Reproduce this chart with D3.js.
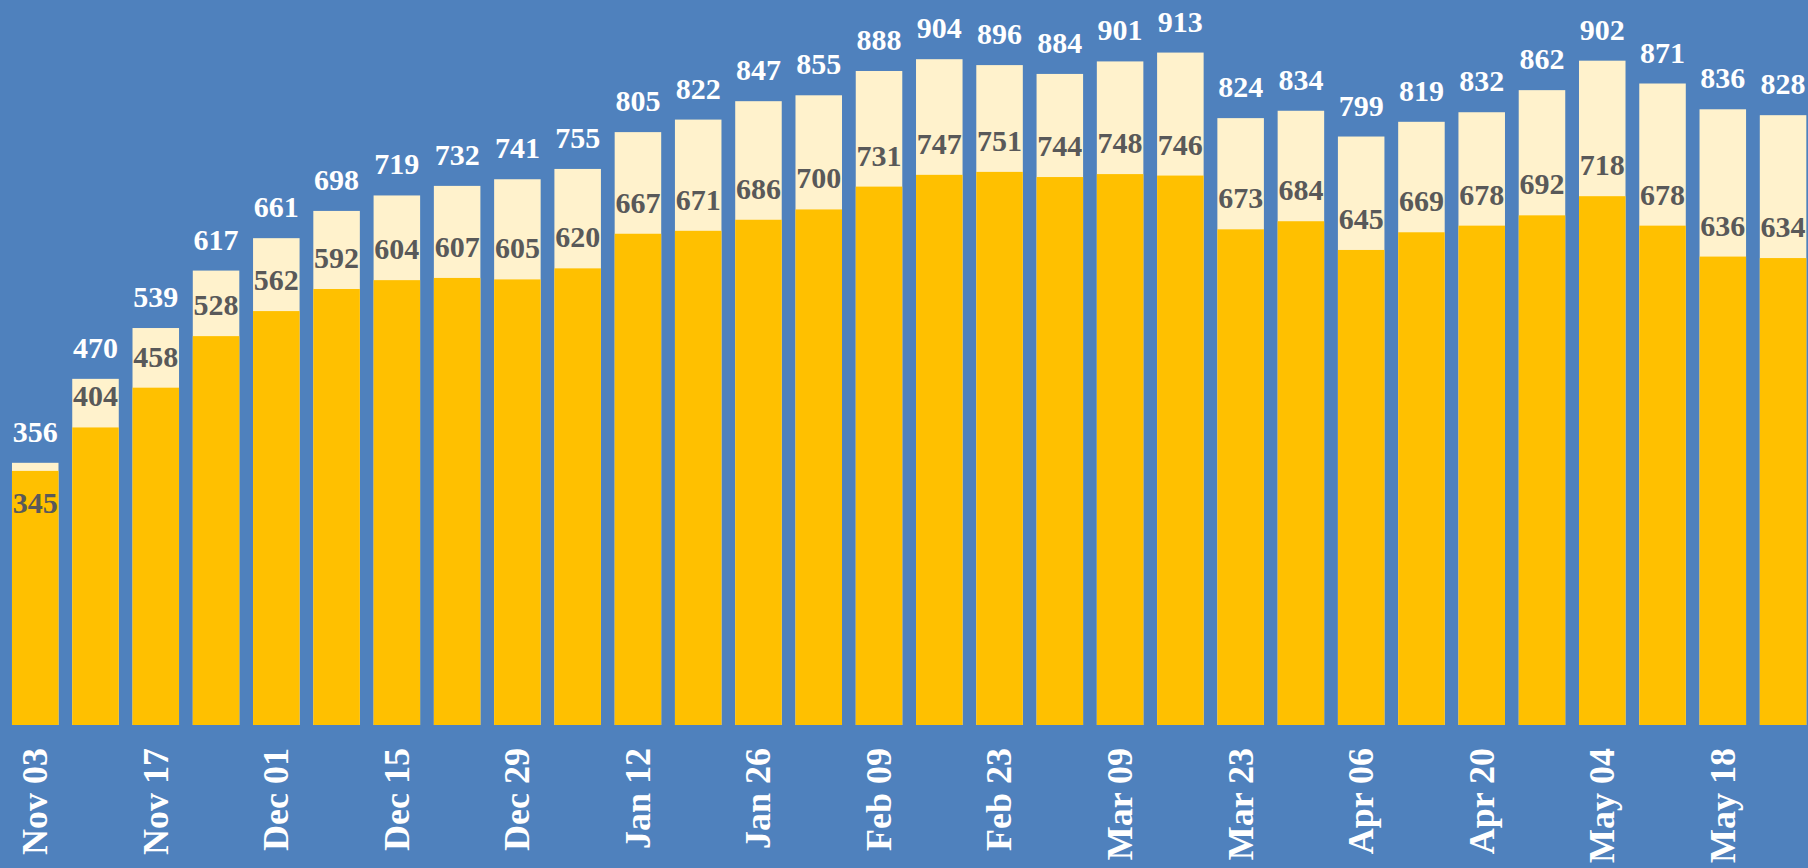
<!DOCTYPE html>
<html>
<head>
<meta charset="utf-8">
<script src="https://cdn.jsdelivr.net/npm/d3@7"></script>
<style>
  html, body { margin: 0; padding: 0; background: #4f81bd; overflow: hidden; }
  svg { display: block; }
</style>
</head>
<body>
<div id="chart"></div>
<script>
const weeks = ["Nov 03", "Nov 10", "Nov 17", "Nov 24", "Dec 01", "Dec 08", "Dec 15", "Dec 22",
  "Dec 29", "Jan 05", "Jan 12", "Jan 19", "Jan 26", "Feb 02", "Feb 09", "Feb 16", "Feb 23",
  "Mar 02", "Mar 09", "Mar 16", "Mar 23", "Mar 30", "Apr 06", "Apr 13", "Apr 20", "Apr 27",
  "May 04", "May 11", "May 18", "May 25"];

const totalValues = [356, 470, 539, 617, 661, 698, 719, 732, 741, 755, 805, 822, 847, 855, 888,
  904, 896, 884, 901, 913, 824, 834, 799, 819, 832, 862, 902, 871, 836, 828];

const innerValues = [345, 404, 458, 528, 562, 592, 604, 607, 605, 620, 667, 671, 686, 700, 731,
  747, 751, 744, 748, 746, 673, 684, 645, 669, 678, 692, 718, 678, 636, 634];

// only every other week gets a tick label
const tickLabels = weeks.filter((d, i) => i % 2 === 0);

const width = 1808,
  height = 868,
  baseY = 725;

const fontFamily = "'Palatino Linotype', 'Book Antiqua', Palatino, 'Liberation Serif', serif";

const svg = d3
  .select("#chart")
  .append("svg")
  .attr("width", width)
  .attr("height", height);

svg.append("rect").attr("width", width).attr("height", height).attr("fill", "#4f81bd");

const x = d3
  .scaleBand()
  .domain(weeks)
  .range([5.1, 1813.2])
  .paddingInner(0.228)
  .paddingOuter(0.114);

const y = d3.scaleLinear().domain([0, 1000]).range([baseY, baseY - 736.5]);

const rows = weeks.map((w, i) => ({ week: w, total: totalValues[i], inner: innerValues[i] }));

// total bars (light)
svg
  .selectAll(".bar-total")
  .data(rows)
  .enter()
  .append("rect")
  .attr("class", "bar-total")
  .attr("x", (d) => x(d.week))
  .attr("width", x.bandwidth())
  .attr("y", (d) => y(d.total))
  .attr("height", (d) => y(0) - y(d.total))
  .attr("fill", "#fff2cc");

// inner bars (gold)
svg
  .selectAll(".bar-inner")
  .data(rows)
  .enter()
  .append("rect")
  .attr("class", "bar-inner")
  .attr("x", (d) => x(d.week))
  .attr("width", x.bandwidth())
  .attr("y", (d) => y(d.inner))
  .attr("height", (d) => y(0) - y(d.inner))
  .attr("fill", "#ffc000");

// total labels
svg
  .selectAll(".lbl-total")
  .data(rows)
  .enter()
  .append("text")
  .attr("class", "lbl-total")
  .attr("x", (d) => x(d.week) + x.bandwidth() / 2)
  .attr("y", (d) => y(d.total) - 21)
  .attr("text-anchor", "middle")
  .attr("font-family", fontFamily)
  .attr("font-weight", "bold")
  .attr("font-size", 30)
  .attr("fill", "#ffffff")
  .text((d) => d.total);

// inner labels; pushed inside the gold bar when the light part is too thin
svg
  .selectAll(".lbl-inner")
  .data(rows)
  .enter()
  .append("text")
  .attr("class", "lbl-inner")
  .attr("x", (d) => x(d.week) + x.bandwidth() / 2)
  .attr("y", (d) => (d.total - d.inner < 30 ? y(d.inner) + 42 : y(d.inner) - 21))
  .attr("text-anchor", "middle")
  .attr("font-family", fontFamily)
  .attr("font-weight", "bold")
  .attr("font-size", 30)
  .attr("fill", "#595959")
  .text((d) => d.inner);

// x axis labels
const xAxis = svg
  .append("g")
  .attr("transform", "translate(0,748)")
  .call(
    d3
      .axisBottom(x)
      .tickValues(tickLabels)
      .tickSize(0)
      .tickPadding(0),
  );

xAxis.select(".domain").remove();

xAxis
  .selectAll("text")
  .attr("transform", "rotate(-90)")
  .attr("text-anchor", "end")
  .attr("x", 0)
  .attr("y", 0)
  .attr("dy", "0.33em")
  .attr("font-family", fontFamily)
  .attr("font-weight", "bold")
  .attr("font-size", 36)
  .attr("fill", "#ffffff");
</script>
</body>
</html>
